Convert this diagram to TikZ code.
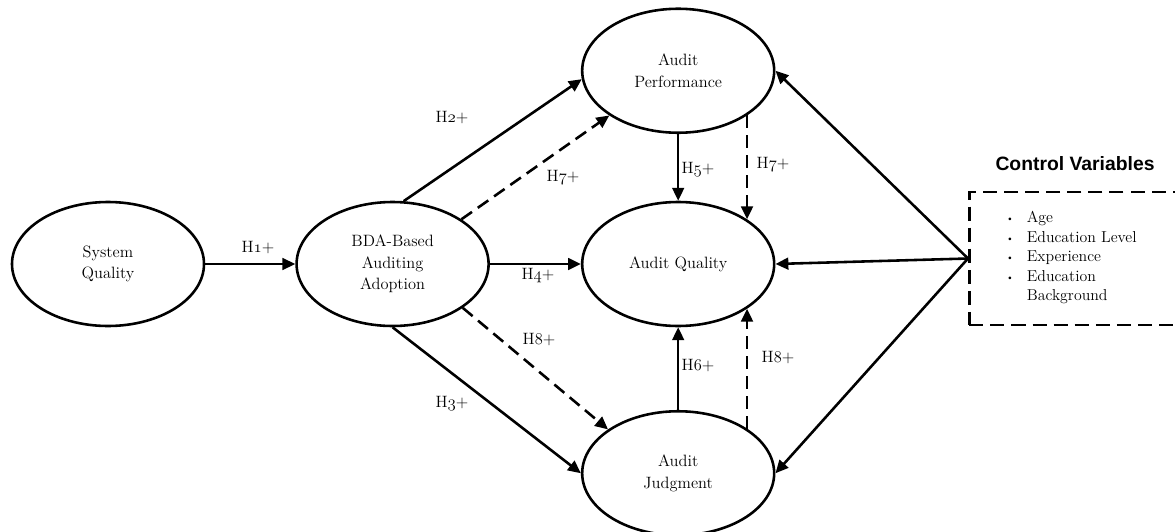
\documentclass[tikz,border=0pt]{standalone}
\usepackage{fontspec}
\newfontfamily\ctrlfont{Liberation Sans}
\usetikzlibrary{shapes.geometric,arrows.meta,positioning}
\newcommand{\onum}[1]{$\mathnormal{#1}$}

\begin{document}
\begin{tikzpicture}[
  x=0.03cm, y=-0.03cm,
  construct/.style={ellipse, draw, line width=2.2pt,
                    minimum width=5.76cm, minimum height=3.72cm,
                    inner sep=0pt, align=center,
                    font=\fontsize{14}{18.5}\selectfont},
  arr/.style={-{Triangle[length=11pt,width=10pt]}, line width=2.2pt},
  darr/.style={arr, dash pattern=on 11pt off 6pt},
  hyp/.style={font=\fontsize{14}{16}\selectfont, inner sep=1pt}
]
  \useasboundingbox (0,0) rectangle (1175,531);

  % Constructs
  \node[construct] (sysq) at (108,264) {System\\Quality};
  \node[construct, right=2.7cm of sysq] (bda) {BDA-Based\\Auditing\\Adoption};
  \node[construct, right=2.73cm of bda] (qual) {Audit Quality};
  \node[construct, above=2.0cm of qual] (perf) {Audit\\Performance};
  \node[construct, below=2.48cm of qual] (judg) {Audit\\Judgment};

  % Control variables
  \node[font=\ctrlfont\fontsize{16.5}{20}\selectfont\bfseries] (ctrlhead)
    at (1075,164) {Control Variables};
  \node[draw, line width=2.2pt, dash pattern=on 12pt off 6pt,
        minimum width=6.96cm, minimum height=3.99cm, anchor=west] (ctrlbox)
    at (968,258.5) {};
  \node[anchor=west, inner sep=0pt, font=\fontsize{13.5}{16.6}\selectfont] (ctrllist)
    at (1006,258) {\begin{tabular}{@{}l@{\hspace{11pt}}l@{}}
      \raisebox{1pt}{\footnotesize\textbullet} & Age\\
      \raisebox{1pt}{\footnotesize\textbullet} & Education Level\\
      \raisebox{1pt}{\footnotesize\textbullet} & Experience\\
      \raisebox{1pt}{\footnotesize\textbullet} & Education\\
      & Background
    \end{tabular}};

  \foreach \a/\b in {sysq.east/bda.west, bda.80/perf.185, bda.east/qual.west,
                     bda.south/judg.west, perf.south/qual.north, judg.north/qual.south}
    \draw[arr] (\a) -- (\b);
  \foreach \a/\b in {bda.33/perf.213, bda.328/judg.148,
                     perf.327/qual.33, judg.33/qual.327}
    \draw[darr] (\a) -- (\b);
  \foreach \t in {perf, qual, judg}
    \draw[arr] (ctrlbox.west) -- (\t.east);

  % Hypothesis labels
  \node[hyp] (h1)  at (258,248) {H\onum{1}+};
  \node[hyp] (h2)  at (452,118) {H\onum{2}+};
  \node[hyp] (h3)  at (452,404) {H\onum{3}+};
  \node[hyp] (h4)  at (538,276) {H\onum{4}+};
  \node[hyp] (h5)  at (698,170) {H\onum{5}+};
  \node[hyp] (h6)  at (698,366) {H6+};
  \node[hyp] (h7a) at (563,178) {H\onum{7}+};
  \node[hyp] (h7b) at (773,165) {H\onum{7}+};
  \node[hyp] (h8a) at (539,340) {H8+};
  \node[hyp] (h8b) at (778,358) {H8+};
\end{tikzpicture}
\end{document}
